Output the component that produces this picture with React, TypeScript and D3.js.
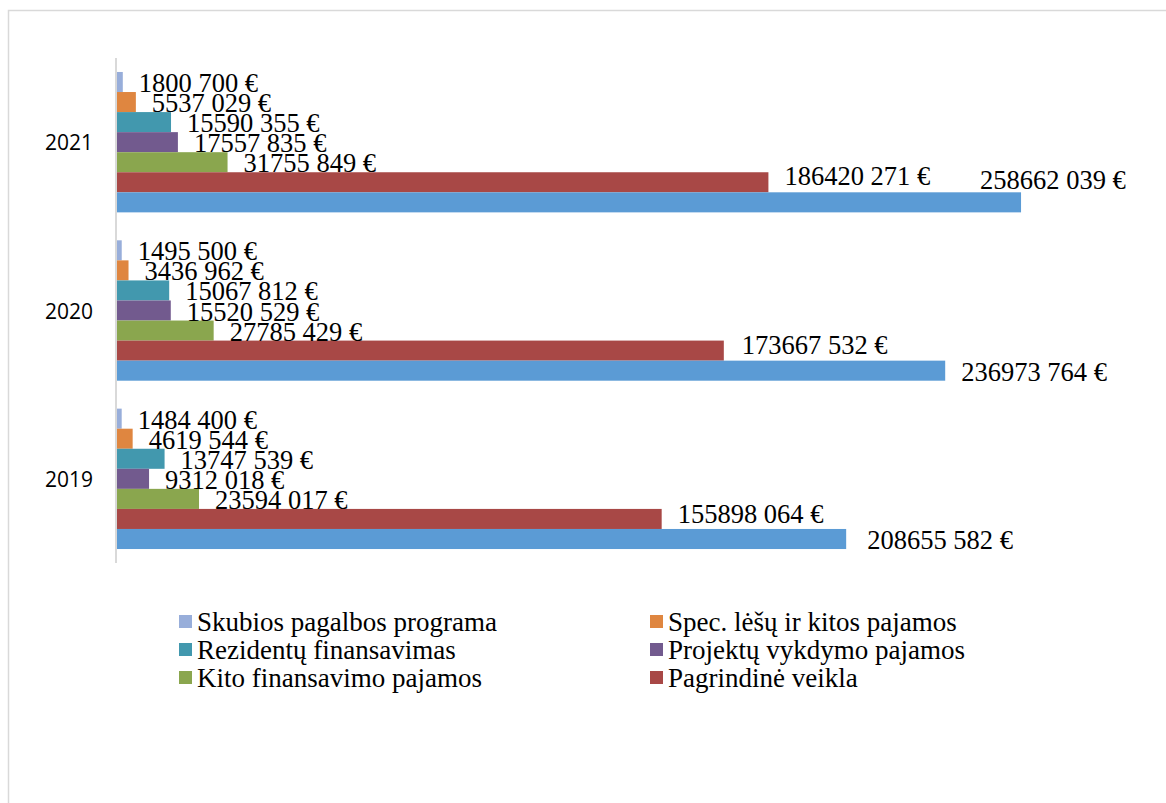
import React from "react";
import * as d3 from "d3";

const categories = ["2021", "2020", "2019"];
const seriesNames = [
  "Skubios pagalbos programa",
  "Spec. lėšų ir kitos pajamos",
  "Rezidentų finansavimas",
  "Projektų vykdymo pajamos",
  "Kito finansavimo pajamos",
  "Pagrindinė veikla",
  "Iš viso",
];
const seriesColors = ["#98AEDA", "#DF8640", "#4298AE", "#725A8E", "#8AA64E", "#A84846", "#5B9BD5"];

// values per series, in category order 2021, 2020, 2019
const skubios = [1800700, 1495500, 1484400];
const spec = [5537029, 3436962, 4619544];
const rezidentu = [15590355, 15067812, 13747539];
const projektu = [17557835, 15520529, 9312018];
const kito = [31755849, 27785429, 23594017];
const pagrindine = [186420271, 173667532, 155898064];
const total = [258662039, 236973764, 208655582];
const seriesValues = [skubios, spec, rezidentu, projektu, kito, pagrindine, total];

// label nudges (Excel's overlap avoidance) [series][category] -> [dx, dy]
const labelNudge: Record<string, [number, number]> = {
  "5-0": [0, -7],
  "5-1": [2, -7],
  "5-2": [0, -6],
  "6-0": [-57, -23],
  "6-2": [5, 0],
};

const legendItems = [0, 1, 2, 3, 4, 5];

const fmt = (v: number) => {
  const s = String(v);
  const last = s.slice(-3);
  const first = s.slice(0, -3);
  return `${first} ${last} €`;
};

export default function App() {
  const W = 1166;
  const H = 803;
  const x0 = 116.5;
  const x = d3.scaleLinear().domain([0, 300e6]).range([x0, 1165.6]);
  const yBand = d3.scaleBand().domain(categories).range([58, 563]).paddingInner(0.166).paddingOuter(0.083);
  const yInner = d3
    .scaleBand()
    .domain(seriesNames)
    .range([0, yBand.bandwidth()]);

  return (
    <svg width={W} height={H} style={{ position: "absolute", left: 0, top: 0, background: "#fff" }}>
      <rect x={8.5} y={10.5} width={1160} height={800} fill="#fff" stroke="#D9D9D9" strokeWidth={1.5} />
      {categories.map((c, ci) => (
        <g key={c}>
          {seriesNames.map((s, si) => {
            const v = seriesValues[si][ci];
            const y = (yBand(c) as number) + (yInner(s) as number);
            return (
              <rect
                key={s}
                x={x(0)}
                y={y}
                width={x(v) - x(0)}
                height={yInner.bandwidth()}
                fill={seriesColors[si]}
              />
            );
          })}
          <text
            x={93}
            y={(yBand(c) as number) + yBand.bandwidth() / 2}
            textAnchor="end"
            dominantBaseline="central"
            fontFamily="'Open Sans', 'Liberation Sans', sans-serif"
            fontSize={21}
            fill="#000"
          >
            {c}
          </text>
        </g>
      ))}
      <line x1={x0 - 0.5} x2={x0 - 0.5} y1={58} y2={563} stroke="#D9D9D9" strokeWidth={2} />
      {categories.map((c, ci) =>
        seriesNames.map((s, si) => {
          const v = seriesValues[si][ci];
          const y = (yBand(c) as number) + (yInner(s) as number) + yInner.bandwidth();
          const n = labelNudge[`${si}-${ci}`] || [0, 0];
          return (
            <text
              key={`${c}-${s}`}
              x={x(v) + 16 + n[0]}
              y={y + n[1]}
              fontFamily="'Liberation Serif', 'Times New Roman', serif"
              fontSize={26.5}
              fill="#000"
            >
              {fmt(v)}
            </text>
          );
        })
      )}
      {legendItems.map((si, i) => {
        const col = i % 2;
        const row = Math.floor(i / 2);
        const lx = col === 0 ? 179 : 650;
        const ly = 622 + row * 28;
        return (
          <g key={si}>
            <rect x={lx} y={ly - 7} width={13} height={13} fill={seriesColors[si]} />
            <text
              x={lx + 18}
              y={ly + 9}
              fontFamily="'Liberation Serif', 'Times New Roman', serif"
              fontSize={27}
              fill="#000"
            >
              {seriesNames[si]}
            </text>
          </g>
        );
      })}
    </svg>
  );
}
